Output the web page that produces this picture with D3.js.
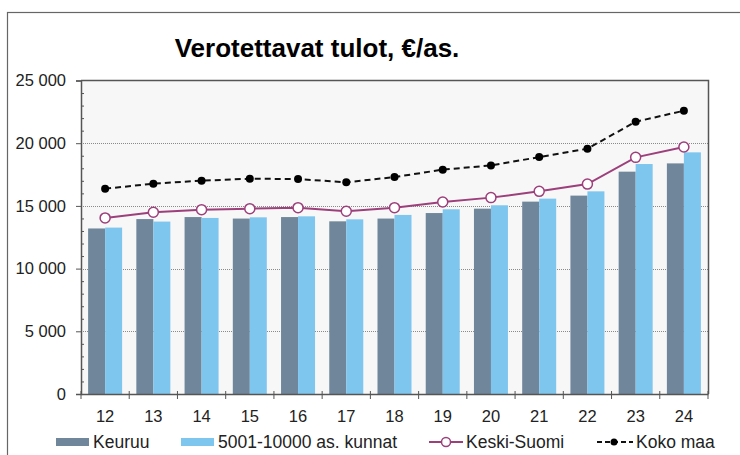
<!DOCTYPE html>
<html>
<head>
<meta charset="utf-8">
<script src="https://cdn.jsdelivr.net/npm/d3@7"></script>
<style>
  body { margin: 0; background: #fff; }
  svg { display: block; font-family: "Liberation Sans", Arial, sans-serif; }
</style>
</head>
<body>
<script>
var w = 740,
    h = 455;

var years = ["12","13","14","15","16","17","18","19","20","21","22","23","24"];
var keuruu = [13200, 13950, 14110, 13990, 14110, 13770, 13990, 14430, 14780, 15340, 15820, 17730, 18390];
var kunnat = [13270, 13750, 14040, 14090, 14170, 13930, 14280, 14730, 15050, 15580, 16160, 18340, 19270];
var keskiSuomi = [14040, 14490, 14700, 14780, 14860, 14570, 14860, 15310, 15660, 16160, 16740, 18870, 19700];
var kokoMaa = [16370, 16770, 17010, 17170, 17140, 16880, 17300, 17890, 18230, 18890, 19560, 21710, 22590];
var yTicks = [0, 5000, 10000, 15000, 20000, 25000];

var margin = {left: 81, right: 32, top: 80.5, bottom: 61};
var x0 = margin.left, x1 = w - margin.right;
var yTop = margin.top, yBot = h - margin.bottom;

var svg = d3.select("body").append("svg").attr("width", w).attr("height", h);

// outer frame
svg.append("rect")
  .attr("x", 7.5).attr("y", 12.5)
  .attr("width", 800).attr("height", 600)
  .attr("fill", "none").attr("stroke", "#666").attr("stroke-width", 1.2);

var x = d3.scaleBand().domain(years).range([x0, x1]);
var barW = 17;
var sub = d3.scaleBand().domain(["keuruu", "kunnat"]).range([-barW, barW]);
var y = d3.scaleLinear().domain([0, 25000]).range([yBot, yTop]);

var fmt = d3.formatLocale({decimal: ",", thousands: " ", grouping: [3], currency: ["", "€"]}).format(",d");

// plot background
svg.append("rect")
  .attr("x", x0).attr("y", yTop)
  .attr("width", x1 - x0).attr("height", yBot - yTop)
  .attr("fill", "#f7f7f7");

// grid
svg.append("g").selectAll("line")
  .data(yTicks.filter(function(d) { return d > 0 && d < 25000; }))
  .enter().append("line")
  .attr("x1", x0).attr("x2", x1)
  .attr("y1", function(d) { return Math.round(y(d)) + 0.5; })
  .attr("y2", function(d) { return Math.round(y(d)) + 0.5; })
  .attr("stroke", "#8a8a8a").attr("stroke-width", 1)
  .attr("stroke-dasharray", "1,1");

// bars
var center = function(d) { return x(d) + x.bandwidth() / 2; };

svg.append("g").selectAll("rect")
  .data(years)
  .enter().append("rect")
  .attr("x", function(d) { return center(d) + sub("keuruu"); })
  .attr("y", function(d, i) { return y(keuruu[i]); })
  .attr("width", sub.bandwidth())
  .attr("height", function(d, i) { return yBot - y(keuruu[i]); })
  .attr("fill", "#6f869b");

svg.append("g").selectAll("rect")
  .data(years)
  .enter().append("rect")
  .attr("x", function(d) { return center(d) + sub("kunnat"); })
  .attr("y", function(d, i) { return y(kunnat[i]); })
  .attr("width", sub.bandwidth())
  .attr("height", function(d, i) { return yBot - y(kunnat[i]); })
  .attr("fill", "#7fc6ef");

// plot border top/right
svg.append("path")
  .attr("d", "M" + x0 + "," + yTop + "H" + (x1 + 0.5) + "V" + yBot)
  .attr("fill", "none").attr("stroke", "#555").attr("stroke-width", 1.5);

// lines
var line = d3.line()
  .x(function(d, i) { return center(years[i]); })
  .y(function(d) { return y(d); });

svg.append("path")
  .attr("d", line(kokoMaa))
  .attr("fill", "none").attr("stroke", "#111").attr("stroke-width", 2)
  .attr("stroke-dasharray", "6,4");

svg.append("g").selectAll("circle")
  .data(kokoMaa)
  .enter().append("circle")
  .attr("cx", function(d, i) { return center(years[i]); })
  .attr("cy", function(d) { return y(d); })
  .attr("r", 4).attr("fill", "#000");

svg.append("path")
  .attr("d", line(keskiSuomi))
  .attr("fill", "none").attr("stroke", "#9c3f7b").attr("stroke-width", 2);

svg.append("g").selectAll("circle")
  .data(keskiSuomi)
  .enter().append("circle")
  .attr("cx", function(d, i) { return center(years[i]); })
  .attr("cy", function(d) { return y(d); })
  .attr("r", 5).attr("fill", "#fff")
  .attr("stroke", "#9c3f7b").attr("stroke-width", 1.5);

// y axis
var yAxis = svg.append("g")
  .attr("transform", "translate(" + x0 + ",0)")
  .call(d3.axisLeft(y).tickValues(yTicks).tickFormat(fmt).tickSize(5).tickPadding(10));
yAxis.select(".domain").attr("stroke", "#555").attr("stroke-width", 1.5);
yAxis.selectAll(".tick line").attr("stroke", "#555");
yAxis.selectAll("text").attr("font-size", 16.5).attr("fill", "#222")
  .attr("font-family", "Liberation Sans, Arial, sans-serif");

var minor = svg.append("g")
  .attr("transform", "translate(" + x0 + ",0)")
  .call(d3.axisLeft(y).tickValues(d3.range(1000, 25000, 1000).filter(function(d) { return d % 5000; }))
    .tickSize(-3).tickFormat(""));
minor.select(".domain").remove();
minor.selectAll(".tick line").attr("stroke", "#555");

// x axis
var xAxis = svg.append("g")
  .attr("transform", "translate(0," + yBot + ")")
  .call(d3.axisBottom(x).tickSize(0).tickPadding(16));
xAxis.select(".domain").attr("stroke", "#555").attr("stroke-width", 1.5);
xAxis.selectAll("text").attr("font-size", 16.5).attr("fill", "#222")
  .attr("font-family", "Liberation Sans, Arial, sans-serif");

svg.append("g").selectAll("line")
  .data(years.map(function(d) { return x(d); }).concat([x1]))
  .enter().append("line")
  .attr("x1", function(d) { return d; }).attr("x2", function(d) { return d; })
  .attr("y1", yBot - 3).attr("y2", yBot + 5)
  .attr("stroke", "#555").attr("stroke-width", 1);

// title
svg.append("text")
  .attr("x", 317).attr("y", 57)
  .attr("text-anchor", "middle")
  .attr("font-size", 26).attr("font-weight", "bold").attr("fill", "#000")
  .text("Verotettavat tulot, €/as.");

// legend
var leg = svg.append("g").attr("font-size", 17.5).attr("fill", "#222");
var ly = 442;

leg.append("rect").attr("x", 56).attr("y", ly - 4).attr("width", 33).attr("height", 8).attr("fill", "#6f869b");
leg.append("text").attr("x", 93).attr("y", ly + 6).text("Keuruu");

leg.append("rect").attr("x", 181).attr("y", ly - 4).attr("width", 33).attr("height", 8).attr("fill", "#7fc6ef");
leg.append("text").attr("x", 218).attr("y", ly + 6).text("5001-10000 as. kunnat");

leg.append("line").attr("x1", 429).attr("x2", 463).attr("y1", ly).attr("y2", ly)
  .attr("stroke", "#9c3f7b").attr("stroke-width", 2);
leg.append("circle").attr("cx", 446).attr("cy", ly).attr("r", 4.5)
  .attr("fill", "#fff").attr("stroke", "#9c3f7b").attr("stroke-width", 1.5);
leg.append("text").attr("x", 466).attr("y", ly + 6).text("Keski-Suomi");

leg.append("line").attr("x1", 597).attr("x2", 633).attr("y1", ly).attr("y2", ly)
  .attr("stroke", "#111").attr("stroke-width", 2).attr("stroke-dasharray", "5,3");
leg.append("circle").attr("cx", 614).attr("cy", ly).attr("r", 3.5).attr("fill", "#000");
leg.append("text").attr("x", 636).attr("y", ly + 6).text("Koko maa");
</script>
</body>
</html>
